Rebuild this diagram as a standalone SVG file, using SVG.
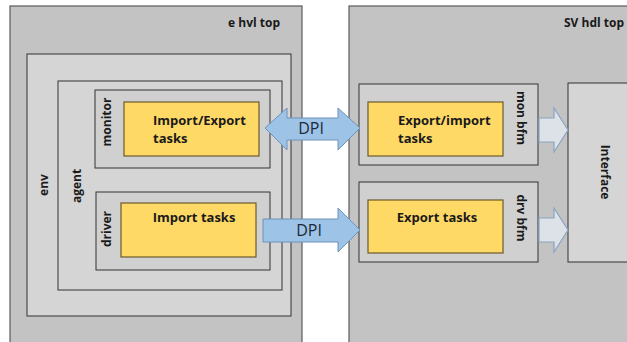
<svg xmlns="http://www.w3.org/2000/svg" width="627" height="342" viewBox="0 0 627 342">
<style>
.outer{fill:#c3c3c3;stroke:#5a5a5a;stroke-width:1.2}
.box{fill:#d5d5d5;stroke:#333;stroke-width:1}
.inner{fill:#d0d0d0;stroke:#333;stroke-width:1}
.task{fill:#ffd966;stroke:#6b5a2a;stroke-width:1.2}
.lbl{font-family:"Open Sans","Liberation Sans",sans-serif;font-weight:bold;font-size:12px;fill:#1a1a1a}
.tl{font-family:"Open Sans","Liberation Sans",sans-serif;font-weight:bold;font-size:13px;fill:#1a1a1a}
.dpi{font-family:"Open Sans","Liberation Sans",sans-serif;font-size:16px;fill:#1c2a3a}
.big{fill:#9dc3e6;stroke:#6f92b8;stroke-width:1}
.small{fill:#dde2e8;stroke:#8aa4c2;stroke-width:1.2}
</style>
<rect width="627" height="342" fill="#fff"/>
<g id="e_hvl_top">
<rect class="outer" x="10" y="6" width="292" height="345"/>
<text class="lbl" x="280" y="27" text-anchor="end">e hvl top</text>
</g>
<g id="env">
<rect class="box" x="27" y="54" width="264" height="262"/>
<text class="lbl" transform="translate(48,185) rotate(-90)" text-anchor="middle">env</text>
</g>
<g id="agent">
<rect class="box" x="58" y="81" width="224" height="209"/>
<text class="lbl" transform="translate(81,186) rotate(-90)" text-anchor="middle">agent</text>
</g>
<g id="monitor">
<rect class="inner" x="95" y="90" width="175" height="78"/>
<text class="lbl" transform="translate(111,122) rotate(-90)" text-anchor="middle">monitor</text>
</g>
<g id="import_export_tasks">
<rect class="task" x="124" y="102" width="135" height="54"/>
<text class="tl" x="153" y="125">Import/Export</text>
<text class="tl" x="153" y="143">tasks</text>
</g>
<g id="driver">
<rect class="inner" x="96" y="192" width="174" height="78"/>
<text class="lbl" transform="translate(111,229) rotate(-90)" text-anchor="middle">driver</text>
</g>
<g id="import_tasks">
<rect class="task" x="121" y="203" width="135" height="54"/>
<text class="tl" x="194" y="222" text-anchor="middle">Import tasks</text>
</g>
<g id="sv_hdl_top">
<rect class="outer" x="349" y="6" width="290" height="345"/>
<text class="lbl" x="564" y="27">SV hdl top</text>
</g>
<g id="mon_bfm">
<rect class="inner" x="359" y="84" width="179" height="81"/>
<text class="lbl" transform="translate(517,118) rotate(90)" text-anchor="middle">mon bfm</text>
</g>
<g id="export_import_tasks">
<rect class="task" x="368" y="102" width="135" height="54"/>
<text class="tl" x="398" y="125">Export/import</text>
<text class="tl" x="398" y="143">tasks</text>
</g>
<g id="drv_bfm">
<rect class="inner" x="359" y="182" width="179" height="80"/>
<text class="lbl" transform="translate(517,218) rotate(90)" text-anchor="middle">drv bfm</text>
</g>
<g id="export_tasks">
<rect class="task" x="368" y="200" width="135" height="53"/>
<text class="tl" x="437" y="222" text-anchor="middle">Export tasks</text>
</g>
<g id="interface">
<rect class="box" x="568" y="83" width="70" height="179"/>
<text class="lbl" transform="translate(601,172) rotate(90)" text-anchor="middle">Interface</text>
</g>
<g id="connectors">
<path class="big" d="M265,128 L287,108 L287,118 L338,118 L338,108 L360,128 L338,150 L338,140 L287,140 L287,150 Z"/>
<text class="dpi" x="311" y="134" text-anchor="middle">DPI</text>
<path class="big" d="M263,219 L338,219 L338,208 L360,230 L338,252 L338,242 L263,242 Z"/>
<text class="dpi" x="309" y="236" text-anchor="middle">DPI</text>
<path class="small" d="M539,118 L554,118 L554,108 L568,130 L554,152 L554,142 L539,142 Z"/>
<path class="small" d="M539,218 L554,218 L554,208 L568,230 L554,252 L554,242 L539,242 Z"/>
</g>
</svg>
